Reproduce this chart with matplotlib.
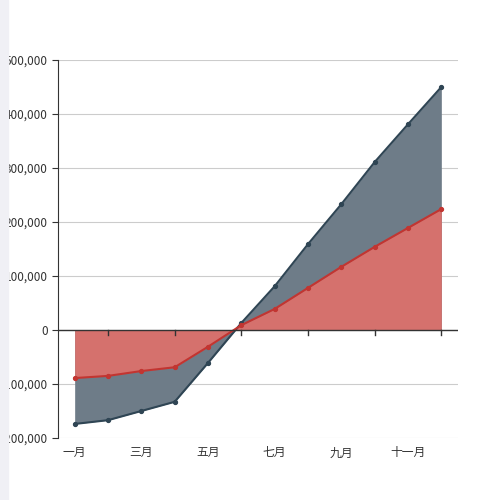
import matplotlib
matplotlib.use("Agg")
import matplotlib.pyplot as plt
from matplotlib.ticker import FuncFormatter

plt.rcParams['font.family'] = ['Noto Sans CJK SC', 'DejaVu Sans']

months = ['一月','二月','三月','四月','五月','六月','七月','八月','九月','十月','十一月','十二月']
series_dark = [-174000,-167000,-150000,-133000,-61000,13000,81000,159000,233000,311000,381000,450000]
series_red = [-89000,-85000,-76000,-69000,-31000,9000,39000,78000,117000,154000,189000,224000]

fig = plt.figure(figsize=(5,5), dpi=100)
fig.patches.append(plt.Rectangle((0,0),0.016,1,transform=fig.transFigure,color='#f0f0f5',zorder=0))
ax = fig.add_axes([0.116,0.124,0.8,0.756])
x = list(range(len(months)))
dark='#2f4554'; red='#c23531'
ax.fill_between(x, series_dark, 0, color='#6e7c88', lw=0, zorder=2)
ax.plot(x, series_dark, color=dark, lw=1.5, marker='o', ms=2.8, zorder=4)
ax.fill_between(x, series_red, 0, color='#d5716d', lw=0, zorder=3)
ax.plot(x, series_red, color=red, lw=1.5, marker='o', ms=2.8, zorder=5)

ax.set_xlim(-0.5, 11.5)
ax.set_ylim(-200000, 500000)
ax.set_yticks(range(-200000, 500001, 100000))
ax.yaxis.set_major_formatter(FuncFormatter(lambda v,p: f"{int(v):,}"))
ax.grid(axis='y', color='#cccccc', lw=0.8, zorder=0)
ax.set_xticks(x[::2])
ax.set_xticklabels(months[::2])
ax.tick_params(axis='x', which='major', length=0, labelsize=8.5, colors='#333333', pad=6)
ax.tick_params(axis='y', length=4, labelsize=8.5, colors='#333333')
for s in ['top','right','bottom']:
    ax.spines[s].set_visible(False)
ax.spines['left'].set_color('#333333')
ax.axhline(0, color='#333333', lw=1, zorder=6)
for xi in x[1::2]:
    ax.plot([xi, xi], [0, -9000], color='#333333', lw=1, zorder=6, clip_on=False)
fig.savefig('out.png')
